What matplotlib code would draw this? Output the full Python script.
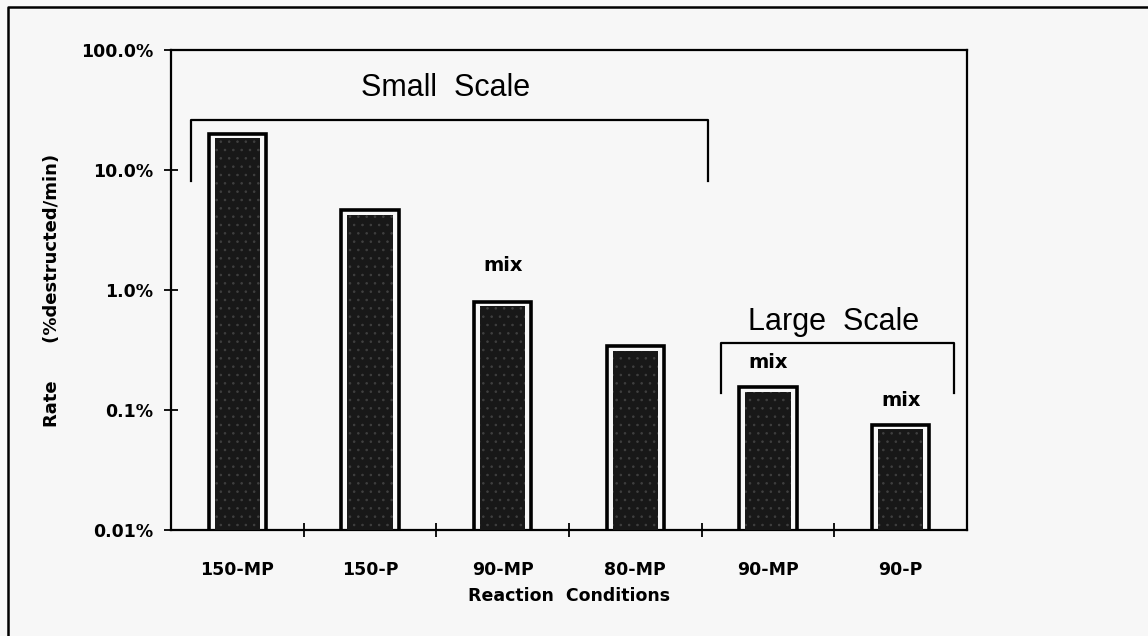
import matplotlib
matplotlib.use("Agg")
import matplotlib.pyplot as plt
from matplotlib.lines import Line2D
import numpy as np

plt.rcParams['font.family'] = ['Liberation Sans', 'DejaVu Sans']
plt.rcParams['hatch.linewidth'] = 0.6

# data
conditions = ['150-MP', '150-P', '90-MP', '80-MP', '90-MP', '90-P']
rate_pct = [20.0, 4.6, 0.80, 0.34, 0.155, 0.075]
notes = ['', '', 'mix', '', 'mix', 'mix']
ytick_vals = [0.01, 0.1, 1.0, 10.0, 100.0]
ytick_text = ['0.01%', '0.1%', '1.0%', '10.0%', '100.0%']

bg = '#f7f7f7'
bold = dict(family='DejaVu Sans', fontweight='bold')
W, H = 1148, 636
fig = plt.figure(figsize=(W / 100, H / 100), dpi=100, facecolor=bg)
ax = fig.add_axes([171 / W, 1 - 530 / H, (967 - 171) / W, (530 - 50) / H])
ax.set_facecolor(bg)

x = np.arange(len(conditions))
# outer frame of each bar, then the dark speckled fill inside it
ax.bar(x, rate_pct, width=0.43, color=bg, edgecolor='black', linewidth=2.6, zorder=2)
ax.bar(x, np.array(rate_pct) * 0.92, width=0.34, color='#181818', edgecolor='#404040',
       hatch='..', linewidth=0, zorder=3)

ax.set_yscale('log')
ax.set_ylim(0.01, 100)
ax.set_xlim(-0.5, len(conditions) - 0.5)
ax.set_yticks(ytick_vals)
ax.set_yticklabels(ytick_text, fontsize=12.5, **bold)
ax.yaxis.set_minor_locator(matplotlib.ticker.NullLocator())
ax.tick_params(axis='y', direction='inout', length=10, width=1.3, pad=8)

ax.set_xticks(x)
ax.set_xticklabels(conditions, fontsize=12.5, **bold)
ax.tick_params(axis='x', which='major', length=0, pad=22)
ax.set_xticks(x[:-1] + 0.5, minor=True)
ax.tick_params(axis='x', which='minor', direction='inout', length=10, width=1.3)

for s in ax.spines.values():
    s.set_linewidth(1.6)

ax.set_xlabel('Reaction  Conditions', fontsize=12.5, labelpad=6, **bold)
ax.set_ylabel('Rate      (%destructed/min)', fontsize=13, labelpad=14, **bold)

# "mix" notes above bars
note_off = [0, 0, 19, 0, 11, 11]
for xi, v, n, off in zip(x, rate_pct, notes, note_off):
    if n:
        ax.annotate(n, (xi, v), xytext=(0, off), textcoords='offset points',
                    ha='center', va='bottom', fontsize=14, **bold)

# brackets
def bracket(x0, x1, ytop, ybot, label, ylab):
    ax.plot([x0, x0, x1, x1], [ybot, ytop, ytop, ybot], color='black', lw=1.6,
            transform=ax.transAxes, clip_on=False)
    ax.text((x0 + x1) / 2 - 0.005, ylab, label, transform=ax.transAxes,
            ha='center', va='center', fontsize=22)

bracket(0.025, 0.675, 0.854, 0.727, 'Small  Scale', 0.92)
bracket(0.691, 0.984, 0.39, 0.285, 'Large  Scale', 0.433)

# outer page frame (cut off at right and bottom)
fig.add_artist(Line2D([8 / W, 8 / W, 1], [0, 1 - 7 / H, 1 - 7 / H], color='black', lw=1.8,
                      transform=fig.transFigure))

fig.savefig('out.png', dpi=100, facecolor=bg)
